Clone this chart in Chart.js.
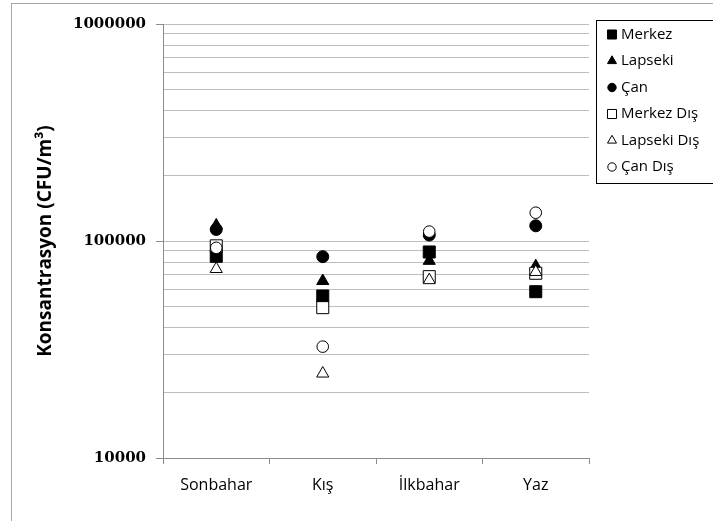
<!DOCTYPE html>
<html>
<head>
<meta charset="utf-8">
<script src="https://cdn.jsdelivr.net/npm/chart.js@4"></script>
<style>
  body { margin: 0; background: #fff; overflow: hidden; }
</style>
</head>
<body>
<canvas id="konsantrasyon" width="713" height="521"></canvas>
<script>
"use strict";

// Mevsimlere gore konsantrasyon (CFU/m3)
let seasons = ["Sonbahar", "Kış", "İlkbahar", "Yaz"];
let merkez = [85000, 55800, 89000, 58400];
let lapseki = [118000, 65400, 81000, 76500];
let can = [113000, 84700, 106500, 117500];
let merkezDis = [95000, 49300, 68500, 71000];
let lapsekiDis = [74300, 24500, 66000, 72000];
let canDis = [93000, 32600, 110500, 135000];
let yTicks = [10000, 100000, 1000000];

let yGrid = [];
yTicks.forEach(function(d, i) {
    for (let m = 1; m <= 9; m++) {
        if (i < yTicks.length - 1 || m === 1) yGrid.push(d * m);
    }
});

function series(label, data, style, filled, radius, legendRadius, i) {
    return {
        label: label,
        data: data,
        showLine: false,
        pointStyle: style,
        pointRadius: radius,
        pointHoverRadius: radius,
        pointBackgroundColor: filled ? "#000" : "#fff",
        pointBorderColor: "#000",
        pointBorderWidth: 1,
        legendRadius: legendRadius,
        order: -i
    };
}

let frame = {
    id: "frame",
    beforeDraw(chart) {
        let c = chart.ctx;
        c.save();
        c.fillStyle = "#fff";
        c.fillRect(0, 0, chart.width, chart.height);
        c.strokeStyle = "#a8a8a8";
        c.lineWidth = 1;
        c.strokeRect(11.5, 3.5, 900, 900);
        c.restore();
    }
};

let boxLegend = {
    id: "boxLegend",
    afterDraw(chart) {
        let c = chart.ctx;
        c.save();
        c.strokeStyle = "#000";
        c.lineWidth = 1;
        c.strokeRect(596.5, 20.5, 200, 163);
        chart.data.datasets.forEach(function(ds, i) {
            let y = 34.5 + i * 26.5;
            c.fillStyle = ds.pointBackgroundColor;
            c.strokeStyle = "#000";
            Chart.helpers.drawPoint(c, {pointStyle: ds.pointStyle, radius: ds.legendRadius, borderWidth: 1, rotation: 0}, 612, y);
            c.fillStyle = "#000";
            c.font = "15px 'Open Sans'";
            c.textBaseline = "middle";
            c.fillText(ds.label, 621, y);
        });
        c.restore();
    }
};

let ctx = document.getElementById("konsantrasyon").getContext("2d");

let chart = new Chart(ctx, {
    type: "line",
    data: {
        labels: seasons,
        datasets: [
            series("Merkez", merkez, "rect", true, 8.5, 6.4, 0),
            series("Lapseki", lapseki, "triangle", true, 7, 5.2, 1),
            series("Çan", can, "circle", true, 6, 4.2, 2),
            series("Merkez Dış", merkezDis, "rect", false, 8.5, 6.4, 3),
            series("Lapseki Dış", lapsekiDis, "triangle", false, 7, 5.2, 4),
            series("Çan Dış", canDis, "circle", false, 5.8, 4.2, 5)
        ]
    },
    options: {
        responsive: false,
        animation: false,
        layout: {
            padding: {top: 24, right: 124, left: 0, bottom: 0}
        },
        plugins: {
            legend: {display: false},
            tooltip: {enabled: false}
        },
        scales: {
            x: {
                type: "category",
                offset: true,
                afterFit: function(scale) { scale.height = 63; },
                grid: {
                    offset: true,
                    drawOnChartArea: false,
                    tickLength: 6,
                    color: "#8c8c8c"
                },
                border: {color: "#8c8c8c"},
                ticks: {
                    color: "#000",
                    padding: 12,
                    font: {family: "'Open Sans'", size: 16}
                }
            },
            y: {
                type: "logarithmic",
                min: 10000,
                max: 1000000,
                afterFit: function(scale) { scale.width = 163; },
                afterBuildTicks: function(scale) {
                    scale.ticks = yGrid.map(function(v) {
                        return {value: v, major: yTicks.indexOf(v) >= 0};
                    });
                },
                grid: {
                    color: "#bdbdbd",
                    tickLength: 7,
                    tickColor: function(c) {
                        return yTicks.indexOf(c.tick.value) >= 0 ? "#8c8c8c" : "rgba(0,0,0,0)";
                    }
                },
                border: {color: "#8c8c8c"},
                ticks: {
                    autoSkip: false,
                    color: "#000",
                    padding: 10,
                    font: {family: "'DejaVu Serif'", size: 15, weight: "bold"},
                    callback: function(value) {
                        return yTicks.indexOf(value) >= 0 ? String(value) : "";
                    }
                },
                title: {
                    display: true,
                    text: "Konsantrasyon (CFU/m³)",
                    color: "#000",
                    padding: {top: 34, bottom: 0},
                    font: {family: "'Open Sans'", size: 19, weight: "bold"}
                }
            }
        }
    },
    plugins: [frame, boxLegend]
});
</script>
</body>
</html>
